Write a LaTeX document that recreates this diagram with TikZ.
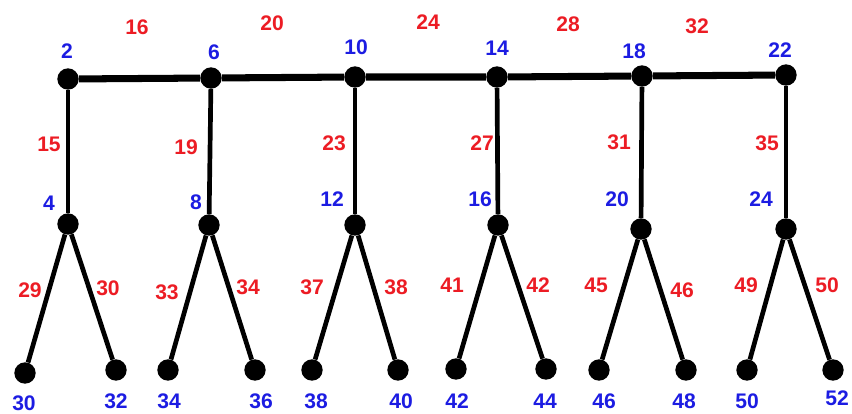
\documentclass[tikz,border=0pt]{standalone}
\usepackage{fontspec}
\setmainfont{Liberation Sans}
\usetikzlibrary{positioning}
\definecolor{numred}{RGB}{236,28,36}
\definecolor{numblue}{RGB}{28,28,226}

\begin{document}
\begin{tikzpicture}[x=0.03cm, y=-0.03cm,
dot/.style={circle, fill=black, inner sep=0pt, minimum size=0.64cm},
vlab/.style={text=numblue, inner sep=0pt, font=\fontsize{18}{21}\selectfont\bfseries},
elab/.style={text=numred, inner sep=0pt, font=\fontsize{18}{21}\selectfont\bfseries},
bar/.style={line width=6pt},
twig/.style={line width=4pt}
]
\useasboundingbox (0,0) rectangle (852,413);

% top row
\node[dot] (t1) at (68,79) {};
\node[dot] (t2) at (211,78) {};
\node[dot] (t3) at (355,77) {};
\node[dot] (t4) at (497,77) {};
\node[dot] (t5) at (642,76) {};
\node[dot] (t6) at (786,75) {};

% middle row
\node[dot] (m1) at (68,224) {};
\node[dot] (m2) at (209,225) {};
\node[dot] (m3) at (355,225) {};
\node[dot] (m4) at (498,225) {};
\node[dot] (m5) at (641,229) {};
\node[dot] (m6) at (786,229) {};

% leaves
\node[dot] (l1) at (25,373) {};
\node[dot] (l2) at (116,370) {};
\node[dot] (l3) at (168,370) {};
\node[dot] (l4) at (255,370) {};
\node[dot] (l5) at (312,370) {};
\node[dot] (l6) at (398,370) {};
\node[dot] (l7) at (456,369) {};
\node[dot] (l8) at (546,369) {};
\node[dot] (l9) at (599,370) {};
\node[dot] (l10) at (686,370) {};
\node[dot] (l11) at (747,370) {};
\node[dot] (l12) at (833,370) {};

\draw[bar] (t1) -- (t2) -- (t3) -- (t4) -- (t5) -- (t6);
\draw[twig] (t1) -- (m1);
\draw[twig] (t2) -- (m2);
\draw[twig] (t3) -- (m3);
\draw[twig] (t4) -- (m4);
\draw[twig] (t5) -- (m5);
\draw[twig] (t6) -- (m6);
\draw[twig] (l1) -- (m1) -- (l2);
\draw[twig] (l3) -- (m2) -- (l4);
\draw[twig] (l5) -- (m3) -- (l6);
\draw[twig] (l7) -- (m4) -- (l8);
\draw[twig] (l9) -- (m5) -- (l10);
\draw[twig] (l11) -- (m6) -- (l12);

% vertex numbers
\node[vlab] (v2) at (67,51) {2};
\node[vlab] (v6) at (214,52) {6};
\node[vlab] (v10) at (356,47) {10};
\node[vlab] (v14) at (497,48) {14};
\node[vlab] (v18) at (634,51) {18};
\node[vlab] (v22) at (780,50) {22};
\node[vlab] (v4) at (49,203) {4};
\node[vlab] (v8) at (196,202) {8};
\node[vlab] (v12) at (332,199) {12};
\node[vlab] (v16) at (480,199) {16};
\node[vlab] (v20) at (617,199) {20};
\node[vlab] (v24) at (761,199) {24};
\node[vlab] (v30) at (24,403) {30};
\node[vlab] (v32) at (116,401) {32};
\node[vlab] (v34) at (169,401) {34};
\node[vlab] (v36) at (261,401) {36};
\node[vlab] (v38) at (316,401) {38};
\node[vlab] (v40) at (401,401) {40};
\node[vlab] (v42) at (457,401) {42};
\node[vlab] (v44) at (545,401) {44};
\node[vlab] (v46) at (604,401) {46};
\node[vlab] (v48) at (684,401) {48};
\node[vlab] (v50) at (747,401) {50};
\node[vlab] (v52) at (837,398) {52};

% edge numbers
\node[elab] (e16) at (137,27) {16};
\node[elab] (e20) at (272,23) {20};
\node[elab] (e24) at (428,22) {24};
\node[elab] (e28) at (568,24) {28};
\node[elab] (e32) at (697,26) {32};
\node[elab] (e15) at (49,144) {15};
\node[elab] (e19) at (186,147) {19};
\node[elab] (e23) at (334,143) {23};
\node[elab] (e27) at (482,143) {27};
\node[elab] (e31) at (619,142) {31};
\node[elab] (e35) at (767,143) {35};
\node[elab] (e29) at (30,290) {29};
\node[elab] (e30) at (108,288) {30};
\node[elab] (e33) at (167,292) {33};
\node[elab] (e34) at (248,287) {34};
\node[elab] (e37) at (312,287) {37};
\node[elab] (e38) at (396,287) {38};
\node[elab] (e41) at (452,285) {41};
\node[elab] (e42) at (538,285) {42};
\node[elab] (e45) at (596,285) {45};
\node[elab] (e46) at (682,290) {46};
\node[elab] (e49) at (746,285) {49};
\node[elab] (e50) at (827,285) {50};
\end{tikzpicture}
\end{document}
